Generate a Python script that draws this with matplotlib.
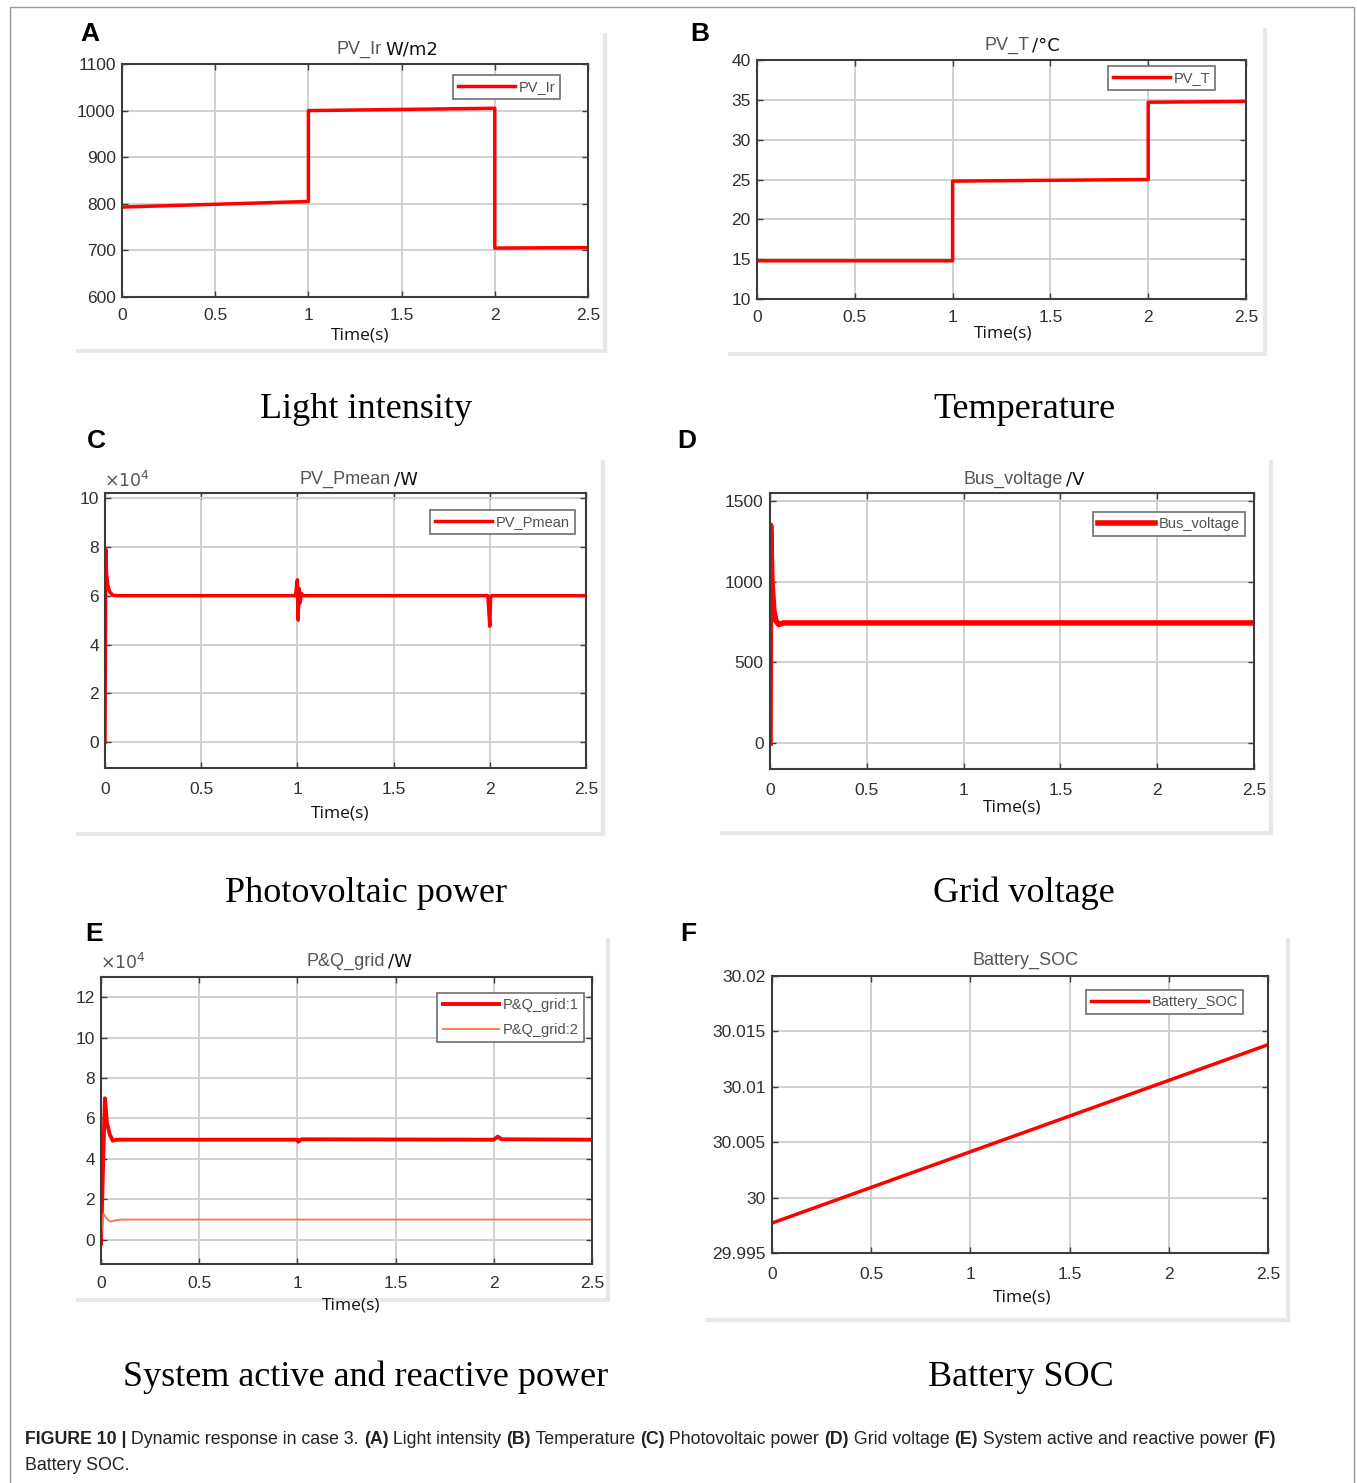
import matplotlib
matplotlib.use("Agg")
import matplotlib.pyplot as plt
from matplotlib.lines import Line2D
from matplotlib.patches import Rectangle
from matplotlib.ticker import FuncFormatter
import numpy as np

W, H = 1357, 1483

# ---- data ----
time_ticks = [0, 0.5, 1, 1.5, 2, 2.5]

a_t = [0, 1, 1, 2, 2, 2.5]
a_ir = [793, 805, 1000, 1005, 705, 706]

b_t = [0, 1, 1, 2, 2, 2.5]
b_temp = [14.8, 14.8, 24.8, 25.0, 34.7, 34.8]

c_t = [0, 0.004, 0.008, 0.015, 0.025, 0.04, 0.06, 0.99, 1.0, 1.004, 1.008,
       1.014, 1.02, 1.03, 1.99, 2.0, 2.004, 2.01, 2.5]
c_p = [0, 7.9, 6.9, 6.4, 6.15, 6.02, 6.0, 6.0, 6.65, 5.0, 6.3,
       5.7, 6.1, 6.0, 6.0, 4.75, 5.9, 6.0, 6.0]  # x1e4 W

d_t = [0, 0.003, 0.01, 0.02, 0.03, 0.045, 0.07, 2.5]
d_v = [0, 1350, 1000, 820, 760, 735, 745, 745]

e_t = [0, 0.01, 0.02, 0.03, 0.045, 0.06, 0.08, 1.0, 1.005, 1.02, 2.0, 2.02, 2.04, 2.5]
e_p = [-0.2, 3.5, 7.0, 5.8, 5.2, 4.9, 4.95, 4.95, 4.85, 4.97, 4.95, 5.1, 4.97, 4.95]
e_qt = [0, 0.012, 0.025, 0.045, 0.07, 0.1, 2.5]
e_q = [0, 1.3, 1.1, 0.9, 0.95, 1.0, 1.0]

f_t = [0, 2.5]
f_soc = [29.9977, 30.0138]

RED = "#ff0000"
ORANGE = "#ff7448"
TICK_FONT = "Liberation Sans"

fig = plt.figure(figsize=(W / 100, H / 100), dpi=100)


def fx(x):
    return x / W


def fy(y):
    return 1 - y / H


def px_axes(x0, y0, x1, y1):
    return fig.add_axes([fx(x0), fy(y1), (x1 - x0) / W, (y1 - y0) / H])


def style_axes(ax, ylim, yticks, xpad):
    ax.set_xlim(0, 2.5)
    ax.set_ylim(*ylim)
    ax.set_xticks(time_ticks)
    ax.set_yticks(yticks)
    fmt = FuncFormatter(lambda v, p: "%g" % round(v, 6))
    ax.xaxis.set_major_formatter(fmt)
    ax.yaxis.set_major_formatter(fmt)
    ax.grid(True, color="#cdcdcd", lw=1.3)
    ax.set_axisbelow(True)
    ax.tick_params(direction="in", top=True, right=True, length=4, width=1,
                   colors="#404040", labelcolor="#303030", labelsize=12.5)
    ax.tick_params(axis="x", pad=xpad)
    ax.tick_params(axis="y", pad=4.5)
    for lab in ax.get_xticklabels() + ax.get_yticklabels():
        lab.set_fontfamily(TICK_FONT)
    for s in ax.spines.values():
        s.set_color("#3c3c3c")
        s.set_linewidth(1.5)


def add_legend(ax, x1, y0, spacing=0.3):
    leg = ax.legend(loc="upper right", bbox_to_anchor=(fx(x1), fy(y0)),
                    bbox_transform=fig.transFigure, borderaxespad=0,
                    fancybox=False, framealpha=1, edgecolor="#6e6e6e",
                    handlelength=3.9, handletextpad=0.25, borderpad=0.35,
                    labelspacing=spacing, prop={"family": TICK_FONT, "size": 10.5})
    leg.get_frame().set_linewidth(1.2)
    for t in leg.get_texts():
        t.set_color("#505050")


def add_title(gray, black, split_x, y):
    fig.text(fx(split_x), fy(y), gray, ha="right", va="center",
             family=TICK_FONT, fontsize=13, color="#555555")
    if black:
        fig.text(fx(split_x + 3), fy(y), black, ha="left", va="center",
                 family="DejaVu Sans", fontsize=13, color="#111111")


def time_label(x, y):
    fig.text(fx(x), fy(y), "Time(s)", ha="center", va="center",
             family="Open Sans", fontsize=12.5, color="#111111")


def shadow(x0, y0, x1, y1):
    for xs, ys in [([x1, x1], [y0, y1]), ([x0, x1], [y1, y1])]:
        fig.add_artist(Line2D([fx(v) for v in xs], [fy(v) for v in ys],
                              color="#e8e8e8", lw=3))


def panel_letter(letter, x, y):
    fig.text(fx(x), fy(y), letter, ha="left", va="center",
             family="Liberation Sans", fontweight="bold", fontsize=19,
             color="#000000")


def big_caption(text, x, y):
    fig.text(fx(x), fy(y), text, ha="center", va="center",
             family="Liberation Serif", fontsize=26, color="#000000")


# outer frame
fig.add_artist(Rectangle((fx(10), fy(1490)), (1344) / W, (1490 - 7) / H,
                         fill=False, edgecolor="#9a9a9a", lw=1))

# ---- A: light intensity ----
shadow(78, 35, 605, 351)
ax = px_axes(122, 64, 588, 297)
ax.plot(a_t, a_ir, color=RED, lw=2.5, label="PV_Ir")
style_axes(ax, (600, 1100), [600, 700, 800, 900, 1000, 1100], 8)
add_legend(ax, 560, 75)
add_title("PV_Ir", "W/m2", 382, 49)
time_label(360, 336)
panel_letter("A", 80, 34)
big_caption("Light intensity", 366, 410)

# ---- B: temperature ----
shadow(730, 30, 1265, 354)
ax = px_axes(757, 60, 1246, 299)
ax.plot(b_t, b_temp, color=RED, lw=2.5, label="PV_T")
style_axes(ax, (10, 40), [10, 15, 20, 25, 30, 35, 40], 8)
add_legend(ax, 1215, 66)
add_title("PV_T", "/°C", 1029, 45)
time_label(1003, 333)
panel_letter("B", 690, 34)
big_caption("Temperature", 1024, 410)

# ---- C: photovoltaic power ----
shadow(78, 462, 603, 834)
ax = px_axes(105, 493, 586, 768)
ax.plot(c_t, c_p, color=RED, lw=2.5, label="PV_Pmean")
style_axes(ax, (-1.05, 10.2), [0, 2, 4, 6, 8, 10], 10)
add_legend(ax, 575, 510)
add_title("PV_Pmean", "/W", 391, 479)
fig.text(fx(104), fy(481), r"$\times10^{4}$", ha="left", va="center",
         fontsize=12.5, color="#555555")
time_label(340, 813)
panel_letter("C", 87, 441)
big_caption("Photovoltaic power", 366, 893)

# ---- D: grid voltage ----
shadow(722, 462, 1271, 833)
ax = px_axes(770, 493, 1254, 769)
ax.plot(d_t, d_v, color=RED, lw=4, label="Bus_voltage")
style_axes(ax, (-160, 1550), [0, 500, 1000, 1500], 10)
add_legend(ax, 1245, 512)
add_title("Bus_voltage", "/V", 1063, 479)
time_label(1012, 808)
panel_letter("D", 677, 441)
big_caption("Grid voltage", 1024, 893)

# ---- E: system active and reactive power ----
shadow(78, 940, 608, 1300)
ax = px_axes(101, 977, 592, 1264)
ax.plot(e_t, e_p, color=RED, lw=2.8, label="P&Q_grid:1")
ax.plot(e_qt, e_q, color=ORANGE, lw=1.3, label="P&Q_grid:2")
style_axes(ax, (-1.2, 13), [0, 2, 4, 6, 8, 10, 12], 9)
add_legend(ax, 584, 993, spacing=0.75)
add_title("P&Q_grid", "/W", 385, 961)
fig.text(fx(100), fy(963), r"$\times10^{4}$", ha="left", va="center",
         fontsize=12.5, color="#555555")
time_label(351, 1305)
panel_letter("E", 85, 934)
big_caption("System active and reactive power", 366, 1377)

# ---- F: battery SOC ----
shadow(707, 940, 1288, 1320)
ax = px_axes(772, 976, 1268, 1253)
ax.plot(f_t, f_soc, color=RED, lw=2.5, label="Battery_SOC")
style_axes(ax, (29.995, 30.02), [29.995, 30.0, 30.005, 30.01, 30.015, 30.02], 10)
add_legend(ax, 1243, 990)
add_title("Battery_SOC", "", 1078, 960)
time_label(1022, 1297)
panel_letter("F", 680, 934)
big_caption("Battery SOC", 1021, 1377)

# ---- figure caption with bold pieces ----
caption_parts = [("FIGURE 10 |", True), (" Dynamic response in case 3. ", False),
                 ("(A)", True), (" Light intensity ", False), ("(B)", True),
                 (" Temperature ", False), ("(C)", True), (" Photovoltaic power ", False),
                 ("(D)", True), (" Grid voltage ", False), ("(E)", True),
                 (" System active and reactive power ", False), ("(F)", True)]
renderer = fig.canvas.get_renderer()
x = 25
for txt, bold in caption_parts:
    t = fig.text(fx(x), fy(1440), txt, ha="left", va="center",
                 family="Liberation Sans", fontsize=12.8,
                 fontweight="bold" if bold else "normal", color="#222222")
    bb = t.get_window_extent(renderer)
    x += bb.width
fig.text(fx(25), fy(1465), "Battery SOC.", ha="left", va="center",
         family="Liberation Sans", fontsize=12.8, color="#222222")

fig.savefig("out.png", dpi=100)
plt.close(fig)
